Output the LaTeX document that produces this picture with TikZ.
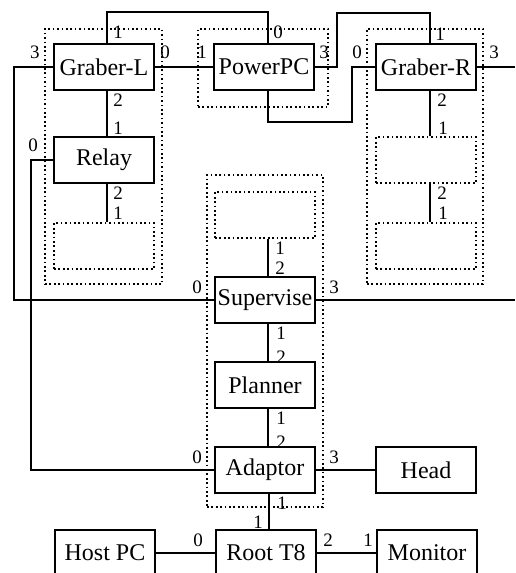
\documentclass[tikz,border=0pt]{standalone}
\usepackage{fontspec}
\setmainfont{Liberation Serif}
\begin{document}
\begin{tikzpicture}[x=1pt,y=-1pt,
  box/.style={draw, line width=1.8pt, minimum width=100pt, minimum height=46pt, inner sep=0pt, font=\fontsize{24}{26}\selectfont},
  dotline/.style={line width=1.7pt, dash pattern=on 1.7pt off 2.7pt},
  ebox/.style={draw, dotline, minimum width=100pt, minimum height=46pt, inner sep=0pt},
  grp/.style={draw, dotline, inner sep=0pt},
  wire/.style={line width=1.3pt},
  lab/.style={inner sep=0pt, font=\fontsize{19}{20}\selectfont}]
\useasboundingbox (0,0) rectangle (515,573);
\clip (0,0) rectangle (515,573);

% dotted groups
\node[grp, minimum width=117pt, minimum height=255pt] (gL) at (103.5,156.5) {};
\node[grp, minimum width=130pt, minimum height=78pt] (gP) at (263,68) {};
\node[grp, minimum width=116pt, minimum height=255pt] (gR) at (425,156.5) {};
\node[grp, minimum width=116pt, minimum height=332pt] (gM) at (265,341) {};

% boxes
\node[box] (GL) at (104,67) {Graber-L};
\node[box] (PPC) at (264,67) {PowerPC};
\node[box] (GR) at (426,67) {Graber-R};
\node[box] (Relay) at (104,160) {Relay};
\node[ebox] (EL) at (104,246) {};
\node[ebox] (ER1) at (426,160) {};
\node[ebox] (ER2) at (426,246) {};
\node[ebox] (EM) at (265,215) {};
\node[box] (Sup) at (265,300) {Supervise};
\node[box] (Plan) at (265,385) {Planner};
\node[box] (Ad) at (265,470) {Adaptor};
\node[box] (Head) at (426,470) {Head};
\node[box] (Host) at (105,553) {Host PC};
\node[box] (Root) at (266,553) {Root T8};
\node[box] (Mon) at (427,553) {Monitor};

\coordinate (eR) at (515,67);
\coordinate (eS) at (515,300);

% connectors
\draw[wire] ([xshift=3pt]GL.north) -- ++(0,-31) -| ([xshift=4pt]PPC.north);
\draw[wire] (GL.east) -- (PPC.west);
\draw[wire] (PPC.east) -- ++(22,0) -- ++(0,-54) -| ([xshift=4pt]GR.north);
\draw[wire] ([xshift=4pt]PPC.south) -- ++(0,31) -- ++(84,0) |- (GR.west);
\draw[wire] (GR.east) -- (eR);
\draw[wire] (GL.west) -- ++(-39,0) |- (Sup.west);
\draw[wire] (Relay.west) -- ++(-22,0) |- (Ad.west);
\draw[wire] ([xshift=3pt]GL.south) -- ([xshift=3pt]Relay.north);
\draw[wire] ([xshift=3pt]Relay.south) -- ([xshift=3pt]EL.north);
\draw[wire] ([xshift=4pt]GR.south) -- ([xshift=4pt]ER1.north);
\draw[wire] ([xshift=4pt]ER1.south) -- ([xshift=4pt]ER2.north);
\draw[wire] ([xshift=3pt]EM.south) -- ([xshift=3pt]Sup.north);
\draw[wire] ([xshift=3pt]Sup.south) -- ([xshift=3pt]Plan.north);
\draw[wire] ([xshift=3pt]Plan.south) -- ([xshift=3pt]Ad.north);
\draw[wire] ([xshift=4pt]Ad.south) -- ([xshift=3pt]Root.north);
\draw[wire] (Sup.east) -- (eS);
\draw[wire] (Ad.east) -- (Head.west);
\draw[wire] (Host.east) -- (Root.west);
\draw[wire] (Root.east) -- (Mon.west);

% port labels
\node[lab] (l1) at (35,52) {3};
\node[lab] (l2) at (165,52) {0};
\node[lab] (l3) at (202,52) {1};
\node[lab] (l4) at (324,52) {3};
\node[lab] (l5) at (357,52) {0};
\node[lab] (l6) at (494,52) {3};
\node[lab] (l7) at (118,32) {1};
\node[lab] (l8) at (278,32) {0};
\node[lab] (l9) at (440,34) {1};
\node[lab] (l10) at (118,100) {2};
\node[lab] (l11) at (118,128) {1};
\node[lab] (l12) at (33,145) {0};
\node[lab] (l13) at (118,193) {2};
\node[lab] (l14) at (118,213) {1};
\node[lab] (l15) at (442,100) {2};
\node[lab] (l16) at (443,128) {1};
\node[lab] (l17) at (442,193) {2};
\node[lab] (l18) at (443,213) {1};
\node[lab] (l19) at (280,248) {1};
\node[lab] (l20) at (280,268) {2};
\node[lab] (l21) at (197,287) {0};
\node[lab] (l22) at (334,287) {3};
\node[lab] (l23) at (281,333) {1};
\node[lab] (l24) at (281,357) {2};
\node[lab] (l25) at (281,418) {1};
\node[lab] (l26) at (281,442) {2};
\node[lab] (l27) at (197,457) {0};
\node[lab] (l28) at (334,457) {3};
\node[lab] (l29) at (282,503) {1};
\node[lab] (l30) at (258,522) {1};
\node[lab] (l31) at (198,540) {0};
\node[lab] (l32) at (328,540) {2};
\node[lab] (l33) at (368,540) {1};
\end{tikzpicture}
\end{document}
